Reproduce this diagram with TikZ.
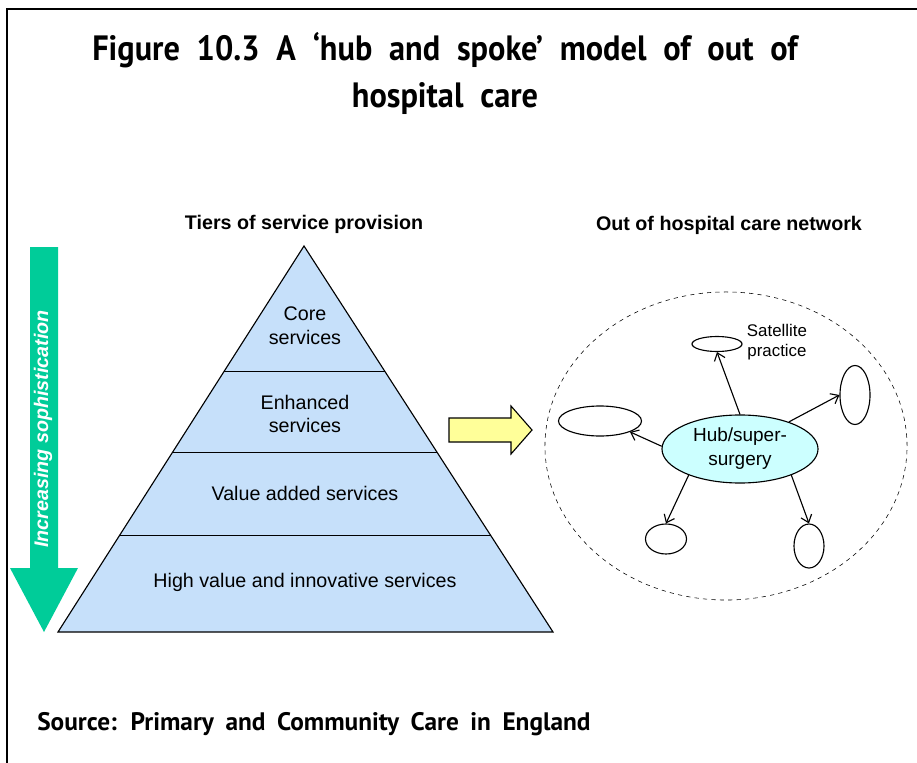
\documentclass[tikz,border=0pt]{standalone}
\usepackage{fontspec}
\setmainfont{Liberation Sans}
\newfontfamily\titlefont[WordSpace=2.05, FakeStretch=0.92]{PT Sans}
\newfontfamily\sourcefont[WordSpace=1.8]{PT Sans}
\usetikzlibrary{shapes.geometric,arrows.meta,calc}
\definecolor{tierblue}{RGB}{198,224,250}
\definecolor{arrowgreen}{RGB}{0,204,153}
\definecolor{arrowyellow}{RGB}{255,255,153}
\definecolor{hubcyan}{RGB}{204,255,255}

\begin{document}
\begin{tikzpicture}[x=0.025cm, y=-0.025cm]
\tikzstyle{every node} = [font=\fontsize{14}{16.8}\selectfont, align=center]
\tikzstyle{heading} = [font=\fontsize{14}{16.8}\selectfont\bfseries]
\tikzstyle{bigtitle} = [font=\titlefont\bfseries\fontsize{25}{33.4}\selectfont]
\tikzstyle{spoke} = [draw, ellipse, inner sep=0pt, line width=0.8pt]
\tikzstyle{link} = [-{Straight Barb[length=5pt,width=8pt]}, line width=0.8pt]

\useasboundingbox (0,0) rectangle (917,763);
% frame
\draw[line width=2.1pt] (7,763) -- (7,9) -- (917,9);

\node[bigtitle] (title) at (445,73) {Figure 10.3 A ‘hub and spoke’ model of out of\\hospital care};
\node[font=\sourcefont\bfseries\fontsize{18}{21}\selectfont, anchor=west, inner sep=0pt] (source) at (37,724) {Source: Primary and Community Care in England};

% tiers
\node[heading] (tiers) at (304,224) {Tiers of service provision};
\coordinate (apex) at (304,246);
\coordinate (bl) at (58,632);
\coordinate (br) at (553,632);
\draw[fill=tierblue, line width=0.8pt] (apex) -- (br) -- (bl) -- cycle;
\foreach \t in {0.326,0.536,0.749}
  \draw[line width=0.8pt] ($(apex)!\t!(bl)$) -- ($(apex)!\t!(br)$);
\node (core) at (305,326) {Core\\services};
\node (enhanced) at (305,414) {Enhanced\\services};
\node (valueadded) at (305,493) {Value added services};
\node (highvalue) at (305,582) {High value and innovative services};

% arrows
\fill[arrowgreen] (30,247) -- (58,247) -- (58,568) -- (78,568) -- (44,632) -- (10,568) -- (30,568) -- cycle;
\node[rotate=90, text=white, font=\fontsize{14}{16.8}\selectfont\bfseries\itshape] (sophistication) at (43,429) {Increasing sophistication};
\draw[fill=arrowyellow, line width=0.8pt] (449,418) -- (511,418) -- (511,406) -- (532,430) -- (511,454) -- (511,442) -- (449,442) -- cycle;

% network
\node[heading] (network) at (729,225) {Out of hospital care network};
\node[draw, dashed, ellipse, minimum width=9.05cm, minimum height=7.7cm] (area) at (726,446) {};
\node[ellipse, draw, fill=hubcyan, line width=0.8pt, inner sep=0pt, minimum width=3.9cm, minimum height=1.7cm,
  font=\fontsize{13.5}{17}\selectfont] (hub) at (740,449) {Hub/super-\\surgery};
\node[spoke, minimum width=1.25cm, minimum height=0.375cm] (sattop) at (717,344) {};
\node[spoke, minimum width=0.75cm, minimum height=1.475cm] (satright) at (855,395) {};
\node[spoke, minimum width=2.075cm, minimum height=0.75cm] (satleft) at (600,421) {};
\node[spoke, minimum width=1.025cm, minimum height=0.75cm] (satbl) at (666,539) {};
\node[spoke, minimum width=0.75cm, minimum height=1.1cm] (satbr) at (809,546) {};
\node[font=\fontsize{12}{14.2}\selectfont] (satlabel) at (777,342) {Satellite\\practice};

\foreach \a/\s/\b in {90/sattop/south, 29/satright/west, 178/satleft/340, 207/satbl/north, 333/satbr/north}
  \draw[link] (hub.\a) -- (\s.\b);
\end{tikzpicture}
\end{document}
